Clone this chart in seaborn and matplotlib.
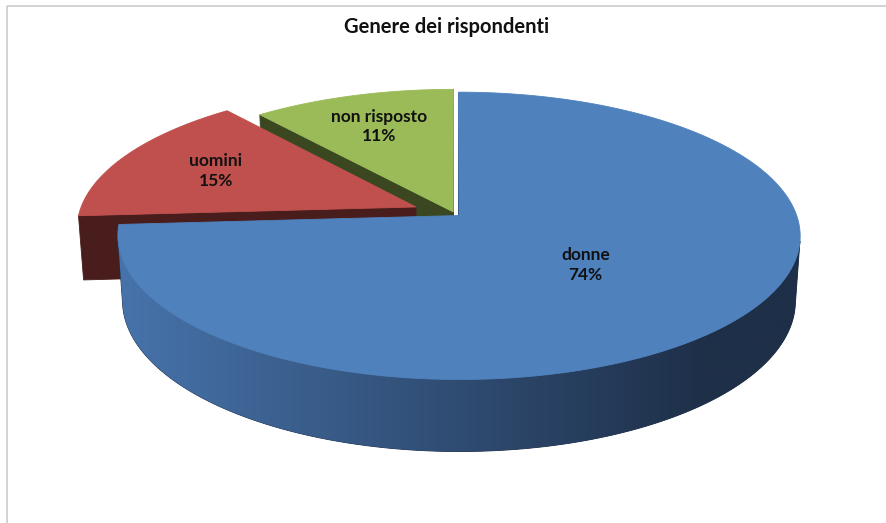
import numpy as np
import matplotlib
matplotlib.use("Agg")
import matplotlib.pyplot as plt
from matplotlib.patches import Polygon
import seaborn as sns

# ---- data -------------------------------------------------------------
title = "Genere dei rispondenti"
categories = ["donne", "uomini", "non risposto"]
shares = [74, 15, 11]
pct_labels = ["74%", "15%", "11%"]

# ---- style ------------------------------------------------------------
top_colors = ["#4F81BD", "#C0504D", "#9BBB59"]
wall_light = ["#4672A9", "#5A2322", "#44522A"]
wall_dark = ["#1E2F48", "#4A1D1D", "#3A4721"]
explode = [0.016, 0.127, 0.016]
label_radius = [0.49, 0.68, 0.71]

sns.set_theme(style="white")
plt.rcParams["font.family"] = ["Lato", "DejaVu Sans"]

W, H = 887, 523
fig = plt.figure(figsize=(W / 100, H / 100), dpi=100)
ax = fig.add_axes([0, 0, 1, 1])
ax.axis("off")

# ---- simple perspective camera for a tilted disc ----------------------
CX, CY = 455.0, 214.0
FOCAL, DIST = 2175.0, 6.45
ELEV = np.deg2rad(24.6)
THICK = 0.212
se, ce = np.sin(ELEV), np.cos(ELEV)
CAM = np.array([0.0, -DIST * ce, DIST * se])


def project(x, y, z):
    Y = y * se + z * ce
    Z = DIST + y * ce - z * se
    return CX + FOCAL * x / Z, CY - FOCAL * Y / Z


def faces_camera(normal, point):
    return np.dot(normal, CAM - np.asarray(point)) > 0


total = float(sum(shares))
bounds = np.concatenate([[0.0], np.cumsum(shares) / total]) * 2 * np.pi
mids = (bounds[:-1] + bounds[1:]) / 2

# paint slices far-to-near, each artist stacked above the previous one
order = sorted(range(len(shares)), key=lambda i: -np.cos(mids[i]))
layer = 1

for i in order:
    a0, a1, am = bounds[i], bounds[i + 1], mids[i]
    ox, oy = explode[i] * np.sin(am), explode[i] * np.cos(am)
    t = np.linspace(a0, a1, max(16, int((a1 - a0) / 0.005)))
    rx, ry = ox + np.sin(t), oy + np.cos(t)

    # outer curved wall: keep only the part turned towards the camera
    vis = np.array([faces_camera(np.array([np.sin(a), np.cos(a), 0.0]),
                                 [x, y, -THICK / 2])
                    for a, x, y in zip(t, rx, ry)])
    if vis.sum() >= 2:
        idx = np.where(vis)[0]
        upper = [project(rx[k], ry[k], 0) for k in idx]
        lower = [project(rx[k], ry[k], -THICK) for k in idx[::-1]]
        wall = Polygon(upper + lower, closed=True, fc=wall_dark[i],
                       ec=wall_dark[i], lw=0.6, zorder=layer)
        ax.add_patch(wall)
        layer += 1
        grad = sns.blend_palette([wall_light[i], wall_dark[i]], 256,
                                 as_cmap=True)
        ramp = np.clip((np.linspace(0, W, 600) - 130) / 580.0, 0, 1)
        img = ax.imshow(ramp[None, :], cmap=grad, vmin=0, vmax=1,
                        extent=[0, W, H, 0], aspect="auto",
                        interpolation="bilinear", zorder=layer)
        img.set_clip_path(wall)
        layer += 1

    # radial cut faces
    for ang, sign in ((a0, -1), (a1, 1)):
        n = sign * np.array([np.cos(ang), -np.sin(ang), 0.0])
        if not faces_camera(n, [ox, oy, -THICK / 2]):
            continue
        ex, ey = ox + np.sin(ang), oy + np.cos(ang)
        pts = [project(ox, oy, 0), project(ex, ey, 0),
               project(ex, ey, -THICK), project(ox, oy, -THICK)]
        ax.add_patch(Polygon(pts, closed=True, fc=wall_dark[i],
                             ec=wall_dark[i], lw=0.6, zorder=layer))
        layer += 1

    # top face
    top = [project(ox, oy, 0)] + [project(a, b, 0) for a, b in zip(rx, ry)]
    ax.add_patch(Polygon(top, closed=True, fc=top_colors[i],
                         ec=top_colors[i], lw=0.6, zorder=layer))
    layer += 1

    # data label
    r = label_radius[i]
    lx, ly = project(ox + r * np.sin(am), oy + r * np.cos(am), 0)
    ax.text(lx, ly, f"{categories[i]}\n{pct_labels[i]}", ha="center",
            va="center", fontsize=12.5, fontweight="bold", color="#111111",
            linespacing=1.3, zorder=100)

ax.set_xlim(0, W)
ax.set_ylim(H, 0)

ax.text(447, 27, title, ha="center", va="center", fontsize=14.5,
        fontweight="bold", color="#111111")

# chart frame
frame = "#C8C8C8"
ax.plot([7.5, 886], [5.5, 5.5], color=frame, lw=1.1, solid_capstyle="butt")
ax.plot([7.5, 7.5], [5.5, H], color=frame, lw=1.1, solid_capstyle="butt")
ax.plot([886, 886], [5.5, H], color="#ECECEC", lw=0.8)

fig.savefig("out.png", dpi=100)
